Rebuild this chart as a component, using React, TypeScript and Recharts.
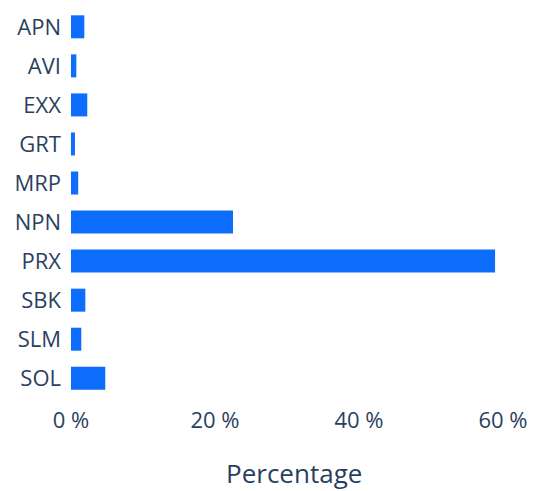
import React from 'react';
import { BarChart, Bar, XAxis, YAxis } from 'recharts';

const categories = ['APN', 'AVI', 'EXX', 'GRT', 'MRP', 'NPN', 'PRX', 'SBK', 'SLM', 'SOL'];
const percentages = [1.85, 0.74, 2.26, 0.55, 1.0, 22.5, 58.9, 1.99, 1.43, 4.76];
const xTicks = [0, 20, 40, 60];

const data = categories.map((name, i) => ({ name, value: percentages[i] }));

const textColor = '#2a3f5f';
const font = '"Open Sans", "Noto Sans", sans-serif';

export default function App() {
  return (
    <div style={{ position: 'absolute', left: 0, top: 0, width: 539, height: 491, background: '#fff' }}>
      <BarChart
        width={539}
        height={491}
        data={data}
        layout="vertical"
        margin={{ top: 7.5, right: 21.6, bottom: 0, left: 0 }}
        barCategoryGap="20%"
      >
        <XAxis
          type="number"
          domain={[0, 62]}
          ticks={xTicks}
          tickFormatter={(v: number) => `${v} %`}
          axisLine={false}
          tickLine={false}
          tickSize={0}
          tickMargin={14}
          height={93}
          tick={{ fill: textColor, fontSize: 22, fontFamily: font }}
          label={{
            value: 'Percentage',
            position: 'insideBottom',
            offset: 8,
            fill: textColor,
            fontSize: 26,
            fontFamily: font,
          }}
        />
        <YAxis
          type="category"
          dataKey="name"
          width={71}
          axisLine={false}
          tickLine={false}
          tickSize={0}
          tickMargin={10}
          interval={0}
          tick={{ fill: textColor, fontSize: 22, fontFamily: font }}
        />
        <Bar dataKey="value" fill="#0d6efd" isAnimationActive={false} />
      </BarChart>
    </div>
  );
}
